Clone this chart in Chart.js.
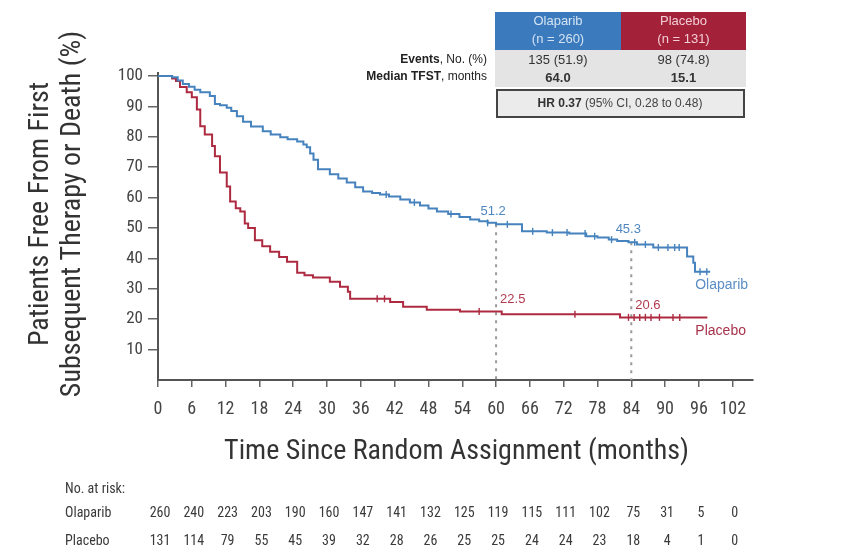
<!DOCTYPE html>
<html lang="en">
<head>
<meta charset="UTF-8">
<meta name="viewport" content="width=device-width, initial-scale=1.0">
<title>Time to First Subsequent Therapy or Death</title>
<script src="https://cdn.jsdelivr.net/npm/chart.js"></script>
<style>
    html, body { margin: 0; padding: 0; background: #fff; }
    #wrap { position: relative; width: 859px; height: 548px; }
</style>
</head>
<body>
<div id="wrap"><canvas id="km"></canvas></div>
<script>
// Kaplan-Meier steps: month of each drop and % event-free after it
const olaparibMonths = [0, 2.5, 3.5, 4.4, 5.5, 6.5, 7.5, 9.2, 10.1, 11, 12.2, 13, 14, 15.1, 16.5, 18.6, 20, 21.7, 23, 24.7,
    25.8, 26.4, 27, 27.6, 28.4, 30.5, 32, 33.5, 35, 36.4, 38, 39.4, 41, 43, 44.7, 46.5, 48, 49.5, 51.5, 53.5,
    55.4, 57, 58.5, 60, 64.6, 69, 73, 76, 78, 80, 81.5, 83.5, 85, 87.9, 93.9, 95, 95.3, 98];
const olaparibPct = [100, 99.6, 98.5, 97.4, 96.5, 95.5, 94.7, 93.4, 90.8, 90.4, 89.6, 88.5, 86.8, 85, 83.4, 81.8, 80.8, 79.9, 79.2, 78.5,
    77.5, 76.6, 74.5, 72.5, 69.3, 67.7, 66.3, 65, 63.4, 62, 61.5, 61, 60.4, 59.4, 58.4, 57.4, 56.4, 55.4, 54.6, 53.6,
    52.8, 52.2, 51.7, 51.2, 48.9, 48.5, 48.2, 47.3, 46.9, 46.2, 45.7, 45.3, 44.6, 43.6, 40.6, 38.6, 35.6, 35.6];

const placeboMonths = [0, 2.5, 3.2, 3.9, 5.1, 6, 6.9, 7.5, 8.3, 9.6, 10.1, 11, 12.2, 12.8, 13.8, 14.6, 15.4, 16, 17.2, 18.5,
    19.9, 21.5, 22.9, 24.7, 26, 27.5, 30.5, 32.3, 33.7, 34.1, 41.2, 43.5, 47.7, 53.6, 61, 82, 97.5];
const placeboPct = [100, 99.2, 98.4, 96.4, 94.7, 93, 89, 83.5, 80.8, 77, 73.6, 68.3, 63.7, 58.7, 56.5, 55.4, 51.5, 50, 46, 44,
    42.2, 40.5, 38.9, 35.3, 34.5, 33.7, 32.3, 30.7, 29, 26.7, 25.7, 24.1, 23.1, 22.5, 21.6, 20.6, 20.6];

// censored patients (months)
const olaparibCensored = [40.5, 45.5, 52, 58.5, 62, 66.5, 70, 72.6, 75.8, 77.5, 80.5, 84.6, 86.5, 88.8, 90.5, 91.7, 92.5, 96.2, 97.4];
const placeboCensored = [38.9, 40.2, 57, 74, 83.5, 84.5, 85.5, 86.5, 87.5, 89, 91.4, 92.6];

const xTicks = [0, 6, 12, 18, 24, 30, 36, 42, 48, 54, 60, 66, 72, 78, 84, 90, 96, 102];
const yTicks = [10, 20, 30, 40, 50, 60, 70, 80, 90, 100];

// number at risk, one per x tick
const olaparibAtRisk = [260, 240, 223, 203, 190, 160, 147, 141, 132, 125, 119, 115, 111, 102, 75, 31, 5, 0];
const placeboAtRisk = [131, 114, 79, 55, 45, 39, 32, 28, 26, 25, 25, 24, 24, 23, 18, 4, 1, 0];

// landmark estimates at 5 and 7 years
const landmarkMonths = [60, 84];
const olaparibLandmark = [51.2, 45.3];
const placeboLandmark = [22.5, 20.6];

const armNames = ['Olaparib', 'Placebo'];
const armSizes = ['(n = 260)', '(n = 131)'];
const eventsText = ['135 (51.9)', '98 (74.8)'];
const medianText = ['64.0', '15.1'];

const BLUE = '#4682be';
const RED = '#ad2a40';
const AXIS = '#555';
const TXT = '#3a3a3a';
const NARROW = "'Liberation Sans Narrow', 'Roboto Condensed', Roboto, sans-serif";
const SANS = "'Liberation Sans', Arial, sans-serif";

const toPoints = (xs, ys) => xs.map((x, i) => ({ x: x, y: ys[i] }));

// value of the step curve at month t
function stepAt(xs, ys, t) {
    let v = ys[0];
    for (let i = 0; i < xs.length; i++) { if (xs[i] <= t) v = ys[i]; }
    return v;
}
const censorPoints = (times, xs, ys) => times.map(t => ({ x: t, y: stepAt(xs, ys, t) }));

const dropLine = (m, v) => ({
    data: [{ x: m, y: v }, { x: m, y: 0 }],
    borderColor: '#9a9a9a', borderWidth: 2, borderDash: [3, 5],
    pointRadius: 0, fill: false, order: 3
});

const censorSet = (pts, color) => ({
    data: pts, showLine: false,
    pointStyle: 'line', pointRotation: 90, pointRadius: 3.5,
    pointBorderColor: color, pointBorderWidth: 1.4, order: 1
});

function text(ctx, str, x, y, font, color, align) {
    ctx.font = font;
    ctx.fillStyle = color;
    ctx.textAlign = align || 'center';
    ctx.textBaseline = 'middle';
    ctx.fillText(str, x, y);
}

// annotations, axis titles, risk table and summary box
const extras = {
    id: 'extras',
    afterDatasetsDraw(chart) {
        const ctx = chart.ctx, xs = chart.scales.x, ys = chart.scales.y;
        ctx.save();
        const f = '13px ' + SANS;
        landmarkMonths.forEach((m, i) => {
            const px = xs.getPixelForValue(m);
            text(ctx, olaparibLandmark[i].toFixed(1), px - 3, ys.getPixelForValue(olaparibLandmark[i]) - 13, f, '#4f86bf');
            text(ctx, placeboLandmark[i].toFixed(1), px + 4, ys.getPixelForValue(placeboLandmark[i]) - 12, f, '#b2394e', 'left');
        });
        const endO = olaparibMonths[olaparibMonths.length - 1];
        const endP = placeboMonths[placeboMonths.length - 1];
        text(ctx, 'Olaparib', xs.getPixelForValue(endO) - 15, ys.getPixelForValue(olaparibPct[olaparibPct.length - 1]) + 13, '14px ' + SANS, '#5b8ec4', 'left');
        text(ctx, 'Placebo', xs.getPixelForValue(endP) - 12, ys.getPixelForValue(placeboPct[placeboPct.length - 1]) + 14, '14px ' + SANS, '#a8324a', 'left');
        ctx.restore();
    },
    afterDraw(chart) {
        const ctx = chart.ctx, xs = chart.scales.x, area = chart.chartArea;
        ctx.save();

        // y title, two lines
        ctx.translate(0, 214);
        ctx.rotate(-Math.PI / 2);
        text(ctx, 'Patients Free From First', 0, 41, '28px ' + NARROW, '#333');
        text(ctx, 'Subsequent Therapy or Death (%)', 0, 73, '28px ' + NARROW, '#333');
        ctx.setTransform(1, 0, 0, 1, 0, 0);

        // x title
        text(ctx, 'Time Since Random Assignment (months)', (area.left + area.right) / 2 + 1, 452, '28px ' + NARROW, '#333');

        // number at risk
        const rf = '14px ' + NARROW;
        text(ctx, 'No. at risk:', 65, 489, rf, TXT, 'left');
        text(ctx, armNames[0], 65, 513, rf, TXT, 'left');
        text(ctx, armNames[1], 65, 541, rf, TXT, 'left');
        xTicks.forEach((m, i) => {
            const px = xs.getPixelForValue(m) + 2;
            text(ctx, String(olaparibAtRisk[i]), px, 513, rf, TXT);
            text(ctx, String(placeboAtRisk[i]), px, 541, rf, TXT);
        });

        // summary box, top right
        const c0 = 495, c1 = 621, c2 = 746;
        ctx.fillStyle = '#3b7bbd';
        ctx.fillRect(c0, 12, c1 - c0, 38);
        ctx.fillStyle = '#a4213a';
        ctx.fillRect(c1, 12, c2 - c1, 38);
        ctx.fillStyle = '#e4e4e4';
        ctx.fillRect(c0, 50, c2 - c0, 37);
        const hf = '13px ' + SANS;
        text(ctx, armNames[0], (c0 + c1) / 2, 21, hf, '#d3e3f3');
        text(ctx, armSizes[0], (c0 + c1) / 2, 39, hf, '#d3e3f3');
        text(ctx, armNames[1], (c1 + c2) / 2, 21, hf, '#f3cfd5');
        text(ctx, armSizes[1], (c1 + c2) / 2, 39, hf, '#f3cfd5');

        // row labels, bold lead word
        const rowLabel = (bold, rest, y) => {
            ctx.font = '12px ' + SANS;
            const wr = ctx.measureText(rest).width;
            text(ctx, rest, 487, y, '12px ' + SANS, '#222', 'right');
            text(ctx, bold, 487 - wr, y, 'bold 12px ' + SANS, '#222', 'right');
        };
        rowLabel('Events', ', No. (%)', 60);
        rowLabel('Median TFST', ', months', 77);
        text(ctx, eventsText[0], (c0 + c1) / 2, 60, '13px ' + SANS, '#333');
        text(ctx, eventsText[1], (c1 + c2) / 2, 60, '13px ' + SANS, '#333');
        text(ctx, medianText[0], (c0 + c1) / 2, 78, 'bold 13px ' + SANS, '#333');
        text(ctx, medianText[1], (c1 + c2) / 2, 78, 'bold 13px ' + SANS, '#333');

        ctx.fillStyle = '#ebebeb';
        ctx.fillRect(497, 90, 247, 27);
        ctx.strokeStyle = '#444';
        ctx.lineWidth = 2;
        ctx.strokeRect(497, 90, 247, 27);
        ctx.font = 'bold 12px ' + SANS;
        const hb = 'HR 0.37', hr = ' (95% CI, 0.28 to 0.48)';
        const wb = ctx.measureText(hb).width;
        ctx.font = '12px ' + SANS;
        const wt = wb + ctx.measureText(hr).width;
        const sx = 620 - wt / 2;
        text(ctx, hb, sx, 104, 'bold 12px ' + SANS, '#333', 'left');
        text(ctx, hr, sx + wb, 104, '12px ' + SANS, '#444', 'left');
        ctx.restore();
    }
};

const datasets = [
    {
        label: 'Olaparib', data: toPoints(olaparibMonths, olaparibPct),
        borderColor: BLUE, borderWidth: 2, stepped: true, pointRadius: 0, fill: false, order: 2
    },
    {
        label: 'Placebo', data: toPoints(placeboMonths, placeboPct),
        borderColor: RED, borderWidth: 2, stepped: true, pointRadius: 0, fill: false, order: 2
    },
    censorSet(censorPoints(olaparibCensored, olaparibMonths, olaparibPct), BLUE),
    censorSet(censorPoints(placeboCensored, placeboMonths, placeboPct), RED),
    dropLine(landmarkMonths[0], olaparibLandmark[0]),
    dropLine(landmarkMonths[1], olaparibLandmark[1])
];

new Chart(document.getElementById('km'), {
    type: 'line',
    data: { datasets: datasets },
    options: {
        responsive: true,
        maintainAspectRatio: false,
        animation: false,
        layout: { padding: { left: 0, right: 106, top: 73, bottom: 128 } },
        plugins: { legend: { display: false }, tooltip: { enabled: false } },
        scales: {
            x: {
                type: 'linear', min: 0, max: 105.6,
                afterBuildTicks: s => { s.ticks = xTicks.map(v => ({ value: v })); },
                afterFit: s => { s.height = 40; },
                grid: { drawOnChartArea: false, tickLength: 7, color: '#666', lineWidth: 1.5 },
                border: { color: AXIS, width: 2 },
                ticks: { font: { family: NARROW, size: 18 }, color: '#444', padding: 12, maxRotation: 0 }
            },
            y: {
                min: 0, max: 101,
                afterBuildTicks: s => { s.ticks = yTicks.map(v => ({ value: v })); },
                afterFit: s => { s.width = 158; },
                grid: { drawOnChartArea: false, tickLength: 10, color: '#666', lineWidth: 1.5 },
                border: { color: AXIS, width: 2 },
                ticks: { font: { family: NARROW, size: 17 }, color: '#444', padding: 5 }
            }
        }
    },
    plugins: [extras]
});
</script>
</body>
</html>
